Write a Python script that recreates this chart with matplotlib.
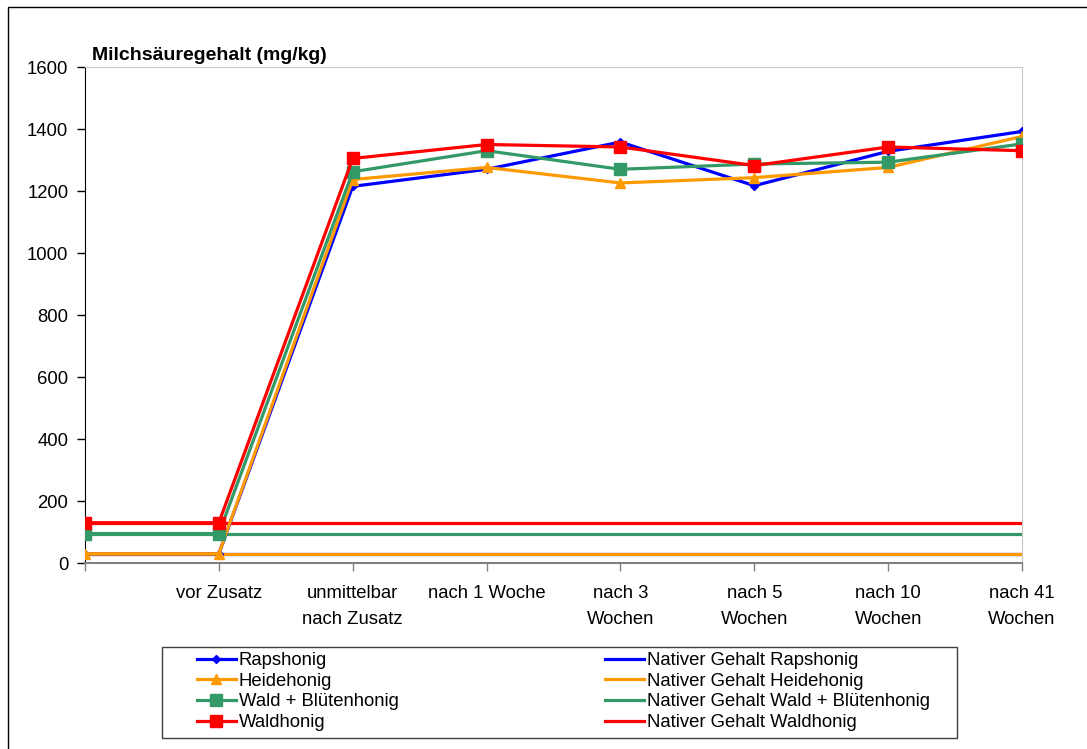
import matplotlib
matplotlib.use('Agg')
import matplotlib.pyplot as plt
from matplotlib.patches import Rectangle

plt.rcParams['font.family'] = ['Liberation Sans', 'DejaVu Sans']

## data
x_labels = ['', 'vor Zusatz', 'unmittelbar\nnach Zusatz', 'nach 1 Woche', 'nach 3\nWochen',
            'nach 5\nWochen', 'nach 10\nWochen', 'nach 41\nWochen']
series_names = ['Rapshonig', 'Heidehonig', 'Wald + Blütenhonig', 'Waldhonig']
raps = [30, 30, 1215, 1270, 1358, 1217, 1328, 1392]
heide = [30, 30, 1237, 1276, 1226, 1243, 1276, 1376]
wald_blueten = [95, 95, 1262, 1330, 1270, 1287, 1293, 1352]
wald = [130, 130, 1305, 1350, 1342, 1282, 1342, 1330]
native = [30, 30, 95, 130]  # Nativer Gehalt, same order as series_names

colors = ['#0000FF', '#FF9900', '#339966', '#FF0000']
markers = ['D', '^', 's', 's']
msizes = [4, 7, 8.5, 9]
fs = 13.3

fig = plt.figure(figsize=(10.87, 7.49), dpi=100)
ax = fig.add_axes([85/1087, 1-563/749, (1022-85)/1087, (563-67)/749])

xs = list(range(len(x_labels)))
handles = []
for vals, name, c, m, ms in zip([raps, heide, wald_blueten, wald], series_names, colors, markers, msizes):
	h, = ax.plot(xs, vals, color=c, lw=2.3, marker=m, ms=ms, mec=c, mfc=c, label=name, zorder=3)
	handles.append(h)
for val, name, c in zip(native, series_names, colors):
	h, = ax.plot([xs[0], xs[-1]], [val, val], color=c, lw=2.3, label='Nativer Gehalt ' + name, zorder=2)
	handles.append(h)

ax.set_xlim(0, 7)
ax.set_ylim(0, 1600)
ax.set_yticks(range(0, 1601, 200))
ax.set_xticks(xs)
ax.set_xticklabels(x_labels, linespacing=1.65)
ax.tick_params(axis='y', labelsize=fs, length=6, width=1, pad=6)
ax.tick_params(axis='x', labelsize=fs, length=6, width=1, color='#808080', pad=10)

ax.spines['left'].set_color('black')
ax.spines['bottom'].set_color('#808080')
ax.spines['bottom'].set_linewidth(1.5)
ax.spines['top'].set_color('#C8C8C8')
ax.spines['right'].set_color('#C8C8C8')

ax.text(0.008, 1.006, 'Milchsäuregehalt (mg/kg)', transform=ax.transAxes,
	fontsize=14, fontweight='bold', ha='left', va='bottom')

## legend without own frame, box drawn separately
leg = fig.legend(handles=handles, ncol=2, loc='upper left',
	bbox_to_anchor=(197/1087, 1-652/749), fontsize=fs, frameon=False,
	handlelength=2.1, handletextpad=0.15, labelspacing=0.2,
	columnspacing=11.2, borderpad=0, borderaxespad=0)
fig.patches.append(Rectangle((162/1087, 1-738/749), (957-162)/1087, (738-647)/749,
	transform=fig.transFigure, fill=False, edgecolor='#404040', lw=1))

## outer chart border
fig.patches.append(Rectangle((8/1087, -0.1), 1.2, 0.1+1-7/749, transform=fig.transFigure,
	fill=False, edgecolor='black', lw=1, clip_on=False))

fig.savefig('out.png', dpi=100)
